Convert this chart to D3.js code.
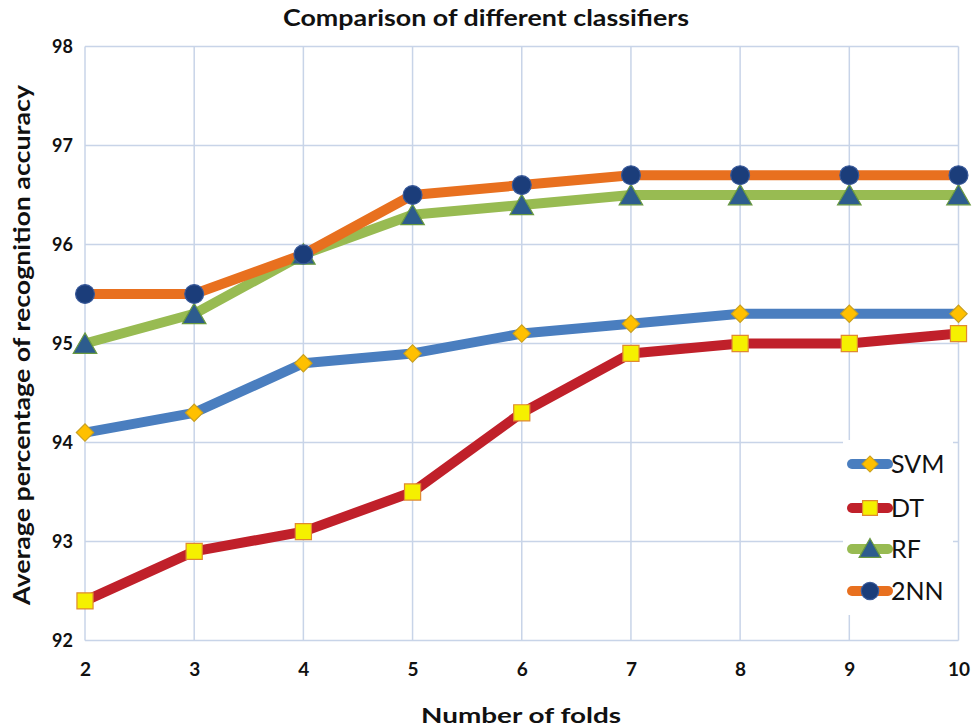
<!DOCTYPE html>
<html><head><meta charset="utf-8">
<script src="https://cdn.jsdelivr.net/npm/d3@7"></script>
<style>body{margin:0;background:#fff}</style>
</head><body>
<script>
const folds = [2,3,4,5,6,7,8,9,10];
const svm = [94.1,94.3,94.8,94.9,95.1,95.2,95.3,95.3,95.3];
const dt  = [92.4,92.9,93.1,93.5,94.3,94.9,95.0,95.0,95.1];
const rf  = [95.0,95.3,95.9,96.3,96.4,96.5,96.5,96.5,96.5];
const nn2 = [95.5,95.5,95.9,96.5,96.6,96.7,96.7,96.7,96.7];
const yTicks = [92,93,94,95,96,97,98];
const seriesNames = ["SVM","DT","RF","2NN"];

const W=972,H=728;
const svg=d3.select("body").append("svg").attr("width",W).attr("height",H);
const x=d3.scaleLinear().domain([2,10]).range([85,958.5]);
const y=d3.scaleLinear().domain([92,98]).range([640.5,46.5]);
const font="Lato, 'Open Sans', sans-serif";

// gridlines
const g=svg.append("g");
g.selectAll(".vx").data(folds).join("line")
 .attr("x1",d=>x(d)).attr("x2",d=>x(d)).attr("y1",y(98)).attr("y2",y(92))
 .attr("stroke","#c8d4e8").attr("stroke-width",1.5);
g.selectAll(".hy").data(yTicks).join("line")
 .attr("x1",x(2)).attr("x2",x(10)).attr("y1",d=>y(d)).attr("y2",d=>y(d))
 .attr("stroke","#c8d4e8").attr("stroke-width",1.5);

// axes labels via d3 axes
const yAxis=svg.append("g").attr("transform",`translate(${x(2)-6},0)`)
 .call(d3.axisLeft(y).tickValues(yTicks).tickFormat(d3.format("d")).tickSize(0).tickPadding(6));
yAxis.select(".domain").remove();
yAxis.selectAll("text").attr("font-family",font).attr("font-weight","bold").attr("font-size",18).attr("fill","#111");
const xAxis=svg.append("g").attr("transform",`translate(0,${y(92)+22})`)
 .call(d3.axisBottom(x).tickValues(folds).tickFormat(d3.format("d")).tickSize(0).tickPadding(0));
xAxis.select(".domain").remove();
xAxis.selectAll("text").attr("font-family",font).attr("font-weight","bold").attr("font-size",19).attr("fill","#111");

const series=[
 {name:"SVM",vals:svm,line:"#4a7ebf",fill:"#ffc000",stroke:"#c9a020",shape:d3.symbolSquare,size:150,rot:45,dy:0},
 {name:"DT",vals:dt,line:"#c0202a",fill:"#f5f000",stroke:"#e08a30",shape:d3.symbolSquare,size:260,rot:0,dy:0},
 {name:"RF",vals:rf,line:"#98bb52",fill:"#2d5c8e",stroke:"#6a9a40",shape:d3.symbolTriangle,size:240,rot:0,dy:3},
 {name:"2NN",vals:nn2,line:"#e8701f",fill:"#1b3d7a",stroke:"#3a5a9a",shape:d3.symbolCircle,size:280,rot:0,dy:0}
];
const lineGen=d3.line().x(d=>x(d[0])).y(d=>y(d[1]));
series.forEach(s=>{
  const pts=folds.map((f,i)=>[f,s.vals[i]]);
  svg.append("path").attr("d",lineGen(pts)).attr("fill","none").attr("stroke",s.line)
   .attr("stroke-width",10).attr("stroke-linejoin","round").attr("stroke-linecap","round");
});
series.forEach(s=>{
  const pts=folds.map((f,i)=>[f,s.vals[i]]);
  svg.append("g").selectAll("path").data(pts).join("path")
   .attr("d",d3.symbol().type(s.shape).size(s.size))
   .attr("transform",d=>`translate(${x(d[0])},${y(d[1])+s.dy}) rotate(${s.rot})`)
   .attr("fill",s.fill).attr("stroke",s.stroke).attr("stroke-width",1.2);
});

// legend
const lg=svg.append("g");
lg.append("rect").attr("x",843).attr("y",440).attr("width",110).attr("height",175).attr("fill","#fff");
const rowY=[464,508,549,591];
series.forEach((s,i)=>{
  const cy=rowY[i];
  lg.append("line").attr("x1",852).attr("x2",888).attr("y1",cy).attr("y2",cy)
   .attr("stroke",s.line).attr("stroke-width",10).attr("stroke-linecap","round");
  lg.append("path").attr("d",d3.symbol().type(s.shape).size(s.size*0.85))
   .attr("transform",`translate(870,${cy+s.dy*0.7}) rotate(${s.rot})`)
   .attr("fill",s.fill).attr("stroke",s.stroke).attr("stroke-width",1.2);
  lg.append("text").attr("x",891).attr("y",cy+9).text(seriesNames[i])
   .attr("font-family",font).attr("font-size",25).attr("fill","#111");
});

// titles
svg.append("text").attr("x",486).attr("y",26).attr("text-anchor","middle")
 .attr("font-family",font).attr("font-weight","bold").attr("font-size",23).attr("fill","#111")
 .attr("textLength",406).attr("lengthAdjust","spacingAndGlyphs")
 .text("Comparison of different classifiers");
svg.append("text").attr("x",521).attr("y",723).attr("text-anchor","middle")
 .attr("font-family",font).attr("font-weight","bold").attr("font-size",21).attr("fill","#111")
 .attr("textLength",200).attr("lengthAdjust","spacingAndGlyphs")
 .text("Number of folds");
svg.append("text").attr("transform","translate(30,345) rotate(-90)").attr("text-anchor","middle")
 .attr("font-family",font).attr("font-weight","bold").attr("font-size",23).attr("fill","#111")
 .attr("textLength",520).attr("lengthAdjust","spacingAndGlyphs")
 .text("Average percentage of recognition accuracy");
</script>
</body></html>
